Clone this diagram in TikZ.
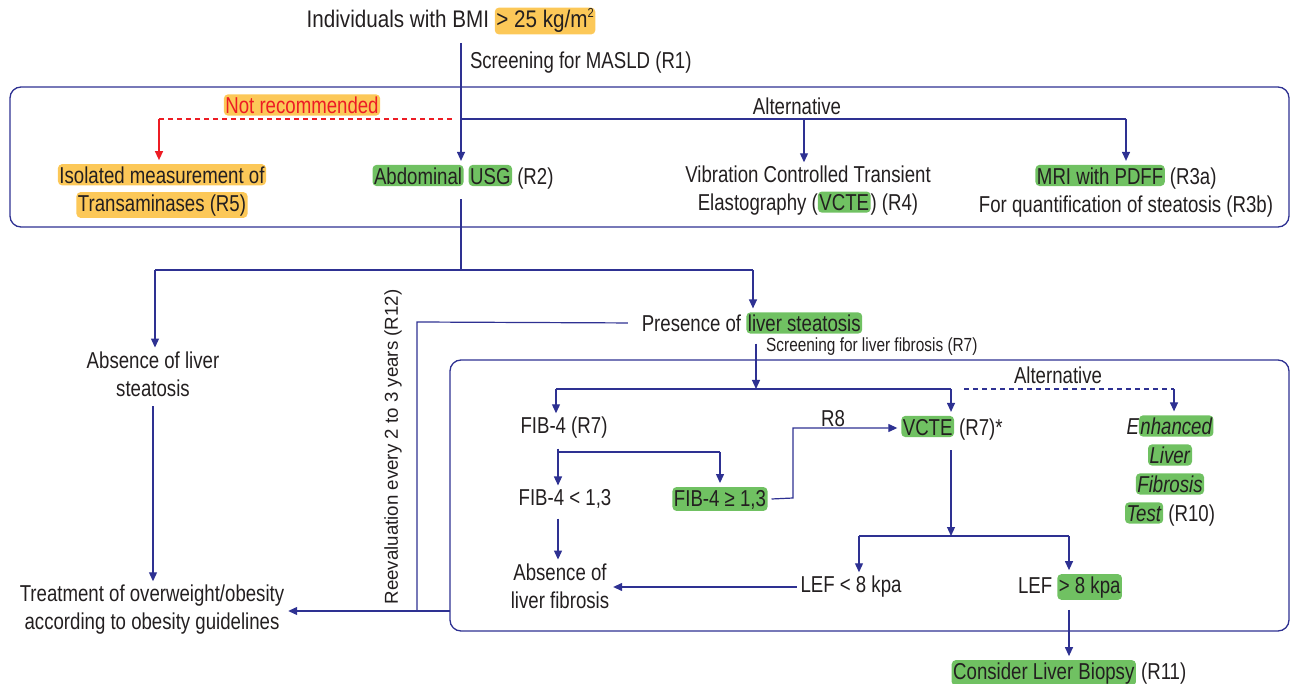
\documentclass[tikz,border=0pt]{standalone}
\usepackage{fontspec}
\setmainfont{Liberation Sans}[FakeStretch=0.81]
\newfontfamily\regfont{Liberation Sans}
\newfontfamily\titlefont{Liberation Sans}[FakeStretch=0.86]
\usetikzlibrary{arrows.meta}
\definecolor{lineblue}{RGB}{46,49,146}
\definecolor{hlgreen}{RGB}{112,193,98}
\definecolor{hlorange}{RGB}{252,200,88}
\definecolor{redc}{RGB}{237,28,36}
\definecolor{textcol}{RGB}{35,31,32}
\newcommand\hlg[1]{\tikz[baseline=0pt]\node[anchor=base,fill=hlgreen,rounded corners=4pt,inner xsep=1.5pt,inner ysep=1.5pt,text height=0.78em]{#1};}
\newcommand\hlo[1]{\tikz[baseline=0pt]\node[anchor=base,fill=hlorange,rounded corners=4pt,inner xsep=1.5pt,inner ysep=1.5pt,text height=0.78em]{#1};}
\newcommand\supsmall[1]{\raisebox{0.42em}{\fontsize{13}{13}\selectfont #1}}
\begin{document}
\begin{tikzpicture}[x=1pt,y=-1pt,
  txt/.style={font=\fontsize{23}{28}\selectfont, text=textcol, align=center, inner sep=0pt, outer sep=4pt},
  smalltxt/.style={font=\fontsize{19}{23}\selectfont, text=textcol, inner sep=0pt},
  reev/.style={font=\regfont\fontsize{18.7}{22}\selectfont, text=textcol, inner sep=0pt},
  line/.style={draw=lineblue, line width=1.2pt},
  arr/.style={line, -{Triangle[length=9pt,width=8pt]}},
  from/.style={shorten <=6pt},
  bluedash/.style={line, dash pattern=on 5pt off 4pt},
  reddash/.style={draw=redc, line width=1.2pt, dash pattern=on 5pt off 4pt},
  redarr/.style={draw=redc, line width=1.2pt, -{Triangle[length=9pt,width=8pt]}},
  frame/.style={draw=lineblue, line width=1.3pt, rounded corners=11pt}]
\useasboundingbox (0,0) rectangle (1291,684);

% frames
\draw[frame] (10,87) rectangle (1289,227);
\draw[frame] (450,360) rectangle (1289,631);

% nodes
\node[txt,font=\titlefont\fontsize{24}{28}\selectfont] (title) at (451,21) {Individuals with BMI \hlo{> 25 kg/m\supsmall{2}}};
\node[txt,anchor=west,outer sep=0pt] (scr1) at (470,63) {Screening for MASLD (R1)};
\node[txt] (alt1) at (797,106) {Alternative};
\node[txt,text=redc] (notrec) at (302,105) {\hlo{Not recommended}};
\node[txt] (trans) at (162,191) {\hlo{Isolated measurement of}\\\hlo{Transaminases (R5)}};
\node[txt] (usg) at (463,177) {\hlg{Abdominal} \hlg{USG} (R2)};
\node[txt] (vcte1) at (808,191) {Vibration Controlled Transient\\Elastography (\hlg{VCTE}) (R4)};
\node[txt] (mri) at (1126,191) {\hlg{MRI with PDFF} (R3a)\\For quantification of steatosis (R3b)};
\node[txt] (absst) at (153,374) {Absence of liver\\steatosis};
\node[txt] (treat) at (152,610) {Treatment of overweight/obesity\\according to obesity guidelines};
\node[txt] (pres) at (752,323) {Presence of \hlg{liver steatosis}};
\node[reev,rotate=90] (reeval) at (393,447) {Reevaluation every 2 to 3 years (R12)};
\node[smalltxt,anchor=west] (scr2) at (766,347) {Screening for liver fibrosis (R7)};
\node[txt] (alt2) at (1058,375) {Alternative};
\node[txt] (fib4) at (564,428) {FIB-4 (R7)};
\node[txt] (r8) at (833,419) {R8};
\node[txt] (vcte2) at (952,428) {\hlg{VCTE} (R7)*};
\node[txt,font=\fontsize{23}{29}\selectfont] (elft) at (1170,471) {\textit{E\hlg{nhanced}}\\\hlg{\textit{Liver}}\\\hlg{\textit{Fibrosis}}\\\hlg{\textit{Test}} (R10)};
\node[txt] (fiblt) at (565,499) {FIB-4 < 1,3};
\node[txt] (fibge) at (720,499) {\hlg{FIB-4 ≥ 1,3}};
\node[txt] (absfib) at (560,586) {Absence of\\liver fibrosis};
\node[txt] (leflt) at (851,587) {LEF < 8 kpa};
\node[txt] (lefgt) at (1070,587) {LEF \hlg{> 8 kpa}};
\node[txt] (biopsy) at (1069,673) {\hlg{Consider Liver Biopsy} (R11)};

% junction coordinates
\coordinate (s0) at (461,43);
\coordinate (j1) at (461,119);
\coordinate (jv) at (804,119);
\coordinate (jm) at (1126,119);
\coordinate (rd) at (452,119);
\coordinate (rt) at (159,119);
\coordinate (u1) at (461,270);
\coordinate (ul) at (155,270);
\coordinate (ur) at (753,270);
\coordinate (rv1) at (417,322);
\coordinate (rv2) at (417,611);
\coordinate (rv3) at (450,611);
\coordinate (p1) at (756,389);
\coordinate (hl) at (556,389);
\coordinate (hr) at (951,389);
\coordinate (dl) at (964,389);
\coordinate (dr) at (1174,389);
\coordinate (f1) at (558,452);
\coordinate (f2) at (720,452);
\coordinate (g1) at (793,498);
\coordinate (v1) at (951,536);
\coordinate (vl) at (859,536);
\coordinate (vr) at (1069,536);

% top part
\draw[arr] (s0) -- (usg.north -| s0);
\draw[line] (j1) -- (jm);
\draw[arr] (jv) -- (vcte1.north -| jv);
\draw[arr] (jm) -- (mri.north -| jm);
\draw[reddash] (rd) -- (rt);
\draw[redarr] (rt) -- (trans.north -| rt);

% USG down
\draw[line,from] (usg.south -| u1) -- (u1);
\draw[line] (ul) -- (ur);
\draw[arr] (ul) -- (absst.north -| ul);
\draw[arr] (ur) -- (pres.north -| ur);
\draw[arr,from] (absst.south) -- (absst.south |- treat.north);

% reevaluation loop
\draw[line,shorten <=10pt] (pres.west) -- (rv1) -- (rv2);
\draw[arr] (rv3) -- (treat.east |- rv3);

% inner box
\draw[arr,from] (pres.south -| p1) -- (p1);
\draw[line] (hl) -- (hr);
\draw[arr] (hl) -- (fib4.north -| hl);
\draw[arr] (hr) -- (vcte2.north -| hr);
\draw[bluedash] (dl) -- (dr);
\draw[arr] (dr) -- (elft.north -| dr);

\draw[arr,from] (fib4.south -| f1) -- (fiblt.north -| f1);
\draw[line] (f1) -- (f2);
\draw[arr] (f2) -- (fibge.north -| f2);
\draw[arr] (fibge.east) -- (g1) -- (g1 |- vcte2.west) -- (vcte2.west);
\draw[arr,from] (fiblt.south -| f1) -- (absfib.north -| f1);

\draw[arr,from] (vcte2.south -| v1) -- (v1);
\draw[line] (vl) -- (vr);
\draw[arr] (vl) -- (leflt.north -| vl);
\draw[arr] (vr) -- (lefgt.north -| vr);
\draw[arr] (leflt.west) -- (absfib.east |- leflt.west);
\draw[arr,from] (lefgt.south -| vr) -- (biopsy.north -| vr);
\end{tikzpicture}
\end{document}
